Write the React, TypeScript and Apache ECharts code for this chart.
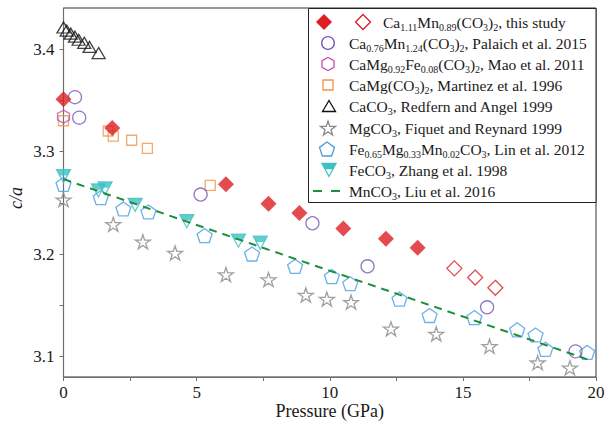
import React, { useEffect, useRef } from 'react';
import * as echarts from 'echarts';

// ---- axes ----
const xTickValues = [0, 2.5, 5, 7.5, 10, 12.5, 15, 17.5, 20];
const xLabelValues = [0, 5, 10, 15, 20];
const yTickValues = [3.1, 3.15, 3.2, 3.25, 3.3, 3.35, 3.4];
const yLabelValues = [3.1, 3.2, 3.3, 3.4];

// ---- data: [pressure GPa, c/a] ----
const thisStudyFilled = [[0, 3.351], [1.83, 3.323], [6.1, 3.268], [7.7, 3.249], [8.86, 3.24], [10.51, 3.225], [12.11, 3.215], [13.3, 3.206]];
const thisStudyOpen = [[14.68, 3.186], [15.46, 3.177], [16.22, 3.167]];
const palaich = [[0.43, 3.353], [0.59, 3.333], [5.15, 3.258], [9.35, 3.23], [11.42, 3.188], [15.91, 3.148], [19.23, 3.105]];
const mao = [[0, 3.334]];
const martinez = [[0, 3.33], [1.68, 3.32], [1.87, 3.315], [2.56, 3.311], [3.15, 3.303], [5.51, 3.267]];
const redfern = [[0, 3.421], [0.12, 3.418], [0.27, 3.415], [0.43, 3.412], [0.57, 3.409], [0.78, 3.406], [0.98, 3.402], [1.32, 3.396]];
const fiquet = [[0, 3.253], [1.87, 3.229], [2.98, 3.212], [4.19, 3.201], [6.1, 3.18], [7.7, 3.175], [9.1, 3.16], [9.89, 3.156], [10.8, 3.153], [12.3, 3.127], [14.0, 3.122], [16.0, 3.11], [17.81, 3.094], [19.02, 3.089]];
const lin = [[0, 3.268], [1.4, 3.255], [2.25, 3.244], [3.19, 3.241], [5.3, 3.218], [7.08, 3.2], [8.7, 3.188], [10.08, 3.178], [10.77, 3.171], [12.62, 3.156], [13.75, 3.14], [15.43, 3.138], [17.04, 3.126], [17.73, 3.121], [18.1, 3.107], [19.67, 3.104]];
const zhang = [[0, 3.276], [1.31, 3.262], [1.56, 3.264], [2.69, 3.248], [4.63, 3.232], [6.57, 3.213], [7.39, 3.211]];
const liu = [[0, 3.273], [19.7, 3.097]];

const FONT = 'Liberation Serif';
const RED = '#dc1e23';
const PURPLE = '#7653b4';
const MAGENTA = '#c24fb3';
const ORANGE = '#f39449';
const BLACK = '#111111';
const GRAY = '#8a8a8a';
const BLUE = '#4a9de0';
const CYAN = '#3ec0c4';
const GREEN = '#1f8e3e';
const TEXT = '#1a1a1a';

const STAR_PATH = 'path://M50 0L61.23 34.55L97.55 34.55L68.17 55.9L79.39 90.45L50 69.1L20.61 90.45L31.83 55.9L2.45 34.55L38.77 34.55Z';
const PENT_PATH = 'path://M50 0L97.55 34.55L79.39 90.45L20.61 90.45L2.45 34.55Z';
const HEX_PATH = 'path://M50 0L93.3 25L93.3 75L50 100L6.7 75L6.7 25Z';
const INV_TRI_PATH = 'path://M0 0L100 0L50 100Z';
const BAND_PATH = 'path://M0 0L100 0L77.5 45L22.5 45Z';

const STAR_PTS = [[50, 0], [61.23, 34.55], [97.55, 34.55], [68.17, 55.9], [79.39, 90.45], [50, 69.1], [20.61, 90.45], [31.83, 55.9], [2.45, 34.55], [38.77, 34.55]];
const PENT_PTS = [[50, 0], [97.55, 34.55], [79.39, 90.45], [20.61, 90.45], [2.45, 34.55]];
const HEX_PTS = [[50, 0], [93.3, 25], [93.3, 75], [50, 100], [6.7, 75], [6.7, 25]];
const DIAM_PTS = [[50, 0], [100, 50], [50, 100], [0, 50]];
const TRI_PTS = [[50, 0], [100, 100], [0, 100]];
const INV_PTS = [[0, 0], [100, 0], [50, 100]];

function fit(pts: number[][], cx: number, cy: number, w: number, h: number) {
  const xs = pts.map((p) => p[0]);
  const ys = pts.map((p) => p[1]);
  const x0 = Math.min(...xs), x1 = Math.max(...xs), y0 = Math.min(...ys), y1 = Math.max(...ys);
  return pts.map((p) => [cx + ((p[0] - x0) / (x1 - x0) - 0.5) * w, cy + ((p[1] - y0) / (y1 - y0) - 0.5) * h]);
}

const rich = {
  m: { font: '15.5px Liberation Serif', fontSize: 15.5, fontFamily: FONT, lineHeight: 20, fill: TEXT },
  s: { font: '10px Liberation Serif', fontSize: 10, fontFamily: FONT, lineHeight: 12, verticalAlign: 'bottom', fill: TEXT },
};

const legendTexts = [
  '{m|Ca}{s|1.11}{m|Mn}{s|0.89}{m|(CO}{s|3}{m|)}{s|2}{m|, this study}',
  '{m|Ca}{s|0.76}{m|Mn}{s|1.24}{m|(CO}{s|3}{m|)}{s|2}{m|, Palaich et al. 2015}',
  '{m|CaMg}{s|0.92}{m|Fe}{s|0.08}{m|(CO}{s|3}{m|)}{s|2}{m|, Mao et al. 2011}',
  '{m|CaMg(CO}{s|3}{m|)}{s|2}{m|, Martinez et al. 1996}',
  '{m|CaCO}{s|3}{m|, Redfern and Angel 1999}',
  '{m|MgCO}{s|3}{m|, Fiquet and Reynard 1999}',
  '{m|Fe}{s|0.65}{m|Mg}{s|0.33}{m|Mn}{s|0.02}{m|CO}{s|3}{m|, Lin et al. 2012}',
  '{m|FeCO}{s|3}{m|, Zhang et al. 1998}',
  '{m|MnCO}{s|3}{m|, Liu et al. 2016}',
];
const legendRowY = [22, 43, 64, 85, 106, 128, 149, 170, 191];

function buildLegend() {
  const els: any[] = [];
  els.push({ type: 'rect', shape: { x: 308.5, y: 8.5, width: 287.5, height: 194 }, style: { fill: '#fff', stroke: '#222', lineWidth: 1 }, z: 100 });
  const hollow = (c: string) => ({ fill: 'none', stroke: c, lineWidth: 1.3 });
  const y = legendRowY;
  els.push({ type: 'polygon', shape: { points: fit(DIAM_PTS, 324, y[0], 16, 16) }, style: { fill: RED }, z: 101 });
  els.push({ type: 'polygon', shape: { points: fit(DIAM_PTS, 363, y[0], 15, 15) }, style: hollow(RED), z: 101 });
  els.push({ type: 'circle', shape: { cx: 328, cy: y[1], r: 6.3 }, style: hollow(PURPLE), z: 101 });
  els.push({ type: 'polygon', shape: { points: fit(HEX_PTS, 328, y[2], 12, 13) }, style: hollow(MAGENTA), z: 101 });
  els.push({ type: 'rect', shape: { x: 323, y: y[3] - 5, width: 10, height: 10 }, style: hollow(ORANGE), z: 101 });
  els.push({ type: 'polygon', shape: { points: fit(TRI_PTS, 329, y[4], 13, 11) }, style: hollow(BLACK), z: 101 });
  els.push({ type: 'polygon', shape: { points: fit(STAR_PTS, 328, y[5], 15, 14) }, style: hollow(GRAY), z: 101 });
  els.push({ type: 'polygon', shape: { points: fit(PENT_PTS, 327, y[6], 15, 14) }, style: hollow(BLUE), z: 101 });
  els.push({ type: 'polygon', shape: { points: fit(INV_PTS, 329, y[7], 14, 13) }, style: hollow(CYAN), z: 101 });
  els.push({ type: 'polygon', shape: { points: [[322, y[7] - 6.5], [336, y[7] - 6.5], [332.85, y[7] - 0.65], [325.15, y[7] - 0.65]] }, style: { fill: CYAN }, z: 102 });
  els.push({ type: 'line', shape: { x1: 313, y1: y[8], x2: 322, y2: y[8] }, style: { stroke: GREEN, lineWidth: 2 }, z: 101 });
  els.push({ type: 'line', shape: { x1: 331, y1: y[8], x2: 340, y2: y[8] }, style: { stroke: GREEN, lineWidth: 2 }, z: 101 });
  legendTexts.forEach((t, i) => {
    els.push({
      type: 'text',
      x: i === 0 ? 383 : 349,
      y: y[i],
      z: 101,
      style: { text: t, rich, fill: TEXT, font: '15.5px Liberation Serif', fontFamily: FONT, fontSize: 15.5, align: 'left', verticalAlign: 'middle', textAlign: 'left', textVerticalAlign: 'middle' },
    });
  });
  els.push({
    type: 'text',
    x: 16,
    y: 198,
    rotation: Math.PI / 2,
    style: { text: 'c/a', fill: TEXT, fontFamily: FONT, fontSize: 18, fontStyle: 'italic', align: 'center', verticalAlign: 'middle', textAlign: 'center', textVerticalAlign: 'middle' },
  });
  return els;
}

function scatter(name: string, data: number[][], symbol: string, size: any, color: string, filled: boolean, extra: any = {}) {
  return {
    name,
    type: 'scatter',
    data,
    symbol,
    symbolSize: size,
    itemStyle: filled
      ? { color, borderWidth: 0 }
      : { color: 'rgba(0,0,0,0)', borderColor: color, borderWidth: 1.3 },
    emphasis: { disabled: true },
    ...extra,
  };
}

export default function App() {
  const ref = useRef<HTMLDivElement>(null);
  useEffect(() => {
    if (!ref.current) return;
    const chart = echarts.init(ref.current, undefined, { renderer: 'svg' });
    const axisLineColor = '#6e6e6e';
    chart.setOption({
      animation: false,
      backgroundColor: '#fff',
      textStyle: { fontFamily: FONT },
      grid: { left: 63.5, right: 9, top: 8, bottom: 46, show: true, borderColor: '#333', borderWidth: 1, containLabel: false, outerBoundsMode: 'none' },
      xAxis: {
        type: 'value',
        min: 0,
        max: 20,
        name: 'Pressure (GPa)',
        nameLocation: 'middle',
        nameGap: 25,
        nameMoveOverlap: false,
        nameTextStyle: { fontFamily: FONT, fontSize: 18, color: TEXT, lineHeight: 18 },
        axisLine: { show: true, lineStyle: { color: axisLineColor, width: 1.2 } },
        axisTick: { show: true, inside: false, length: 4, customValues: xTickValues, lineStyle: { color: axisLineColor } },
        axisLabel: { customValues: xLabelValues, fontFamily: FONT, fontSize: 17, lineHeight: 14, color: TEXT, margin: 8 },
        splitLine: { show: false },
      },
      yAxis: {
        type: 'value',
        min: 3.08,
        max: 3.44,
        axisLine: { show: true, lineStyle: { color: axisLineColor, width: 1.2 } },
        axisTick: { show: true, inside: false, length: 4, customValues: yTickValues, lineStyle: { color: axisLineColor } },
        axisLabel: { customValues: yLabelValues, fontFamily: FONT, fontSize: 17, color: TEXT, margin: 9, formatter: (v: number) => v.toFixed(1) },
        splitLine: { show: false },
      },
      graphic: buildLegend(),
      series: [
        scatter('MgCO3', fiquet, STAR_PATH, [15, 14], GRAY, false),
        scatter('Fe0.65Mg0.33Mn0.02CO3', lin, PENT_PATH, [15, 14], BLUE, false),
        scatter('FeCO3', zhang, INV_TRI_PATH, [14, 13], CYAN, false),
        scatter('FeCO3 fill', zhang, BAND_PATH, [14, 5.85], CYAN, true, { symbolOffset: [0, -3.575] }),
        {
          name: 'MnCO3',
          type: 'line',
          data: liu,
          showSymbol: false,
          symbol: 'none',
          lineStyle: { color: GREEN, width: 2, type: [8, 6] },
          emphasis: { disabled: true },
        },
        scatter('CaCO3', redfern, 'triangle', [13, 11], BLACK, false),
        scatter('CaMg(CO3)2', martinez, 'rect', [10, 10], ORANGE, false),
        scatter('CaMg0.92Fe0.08(CO3)2', mao, HEX_PATH, [12, 13], MAGENTA, false),
        scatter('Ca0.76Mn1.24(CO3)2', palaich, 'circle', 13, PURPLE, false),
        scatter('this study', thisStudyFilled, 'diamond', [16, 16], RED, true),
        scatter('this study open', thisStudyOpen, 'diamond', [15, 15], RED, false),
      ],
    });
    return () => chart.dispose();
  }, []);
  return <div ref={ref} style={{ position: 'fixed', left: 0, top: 0, width: 605, height: 423 }} />;
}
